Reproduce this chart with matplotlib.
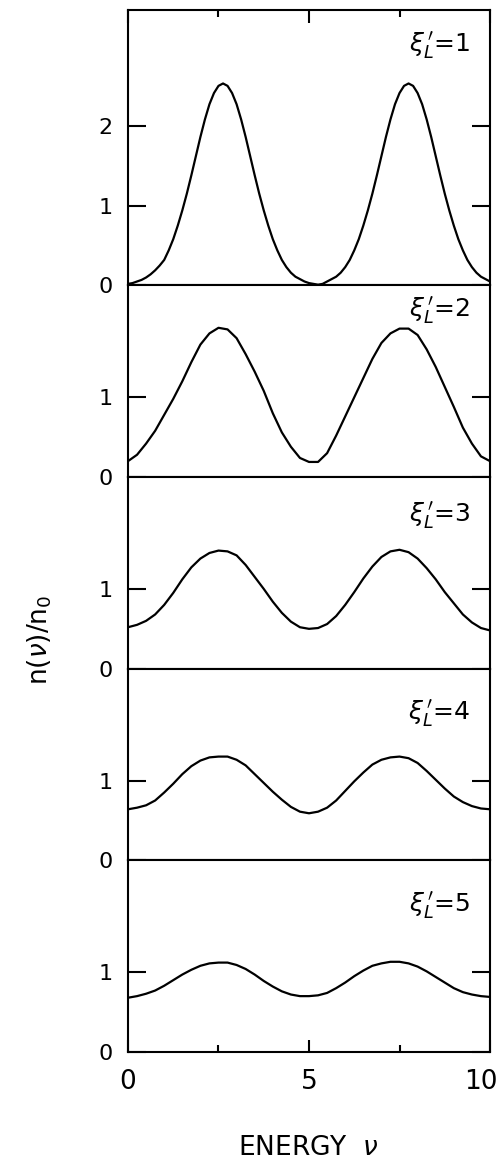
import matplotlib
matplotlib.use("Agg")
import matplotlib.pyplot as plt
from matplotlib.transforms import ScaledTranslation

# Energie-Raster: fein (0.125) fuer die spitze Kurve, sonst 0.25
energie_fein = [i * 0.125 for i in range(81)]
energie = [i * 0.25 for i in range(41)]

xi_werte = [1, 2, 3, 4, 5]

# n(nu)/n0 fuer xi_L' = 1 ... 5
n_xi1 = [0.02, 0.03, 0.05, 0.07, 0.10, 0.14, 0.19, 0.25, 0.32, 0.44,
         0.58, 0.75, 0.94, 1.15, 1.38, 1.62, 1.86, 2.08, 2.27, 2.41,
         2.50, 2.53, 2.50, 2.41, 2.27, 2.08, 1.86, 1.62, 1.38, 1.15,
         0.94, 0.75, 0.58, 0.44, 0.32, 0.23, 0.16, 0.11, 0.08, 0.05,
         0.03, 0.02, 0.01, 0.02, 0.05, 0.08, 0.11, 0.16, 0.23, 0.32,
         0.44, 0.58, 0.75, 0.94, 1.15, 1.38, 1.62, 1.86, 2.08, 2.27,
         2.41, 2.50, 2.53, 2.50, 2.41, 2.27, 2.08, 1.86, 1.62, 1.38,
         1.15, 0.94, 0.75, 0.58, 0.44, 0.32, 0.23, 0.16, 0.11, 0.08,
         0.05]
n_xi2 = [0.20, 0.28, 0.42, 0.58, 0.78, 0.98, 1.20, 1.44, 1.66, 1.80, 1.87,
         1.85, 1.74, 1.54, 1.32, 1.08, 0.80, 0.56, 0.38, 0.24, 0.19, 0.19,
         0.30, 0.52, 0.76, 1.00, 1.24, 1.48, 1.68, 1.80, 1.86, 1.86, 1.78,
         1.60, 1.38, 1.13, 0.88, 0.62, 0.42, 0.26, 0.20]
n_xi3 = [0.52, 0.55, 0.60, 0.68, 0.80, 0.95, 1.12, 1.27, 1.38, 1.45, 1.48,
         1.47, 1.42, 1.30, 1.15, 1.00, 0.84, 0.70, 0.59, 0.52, 0.50, 0.51,
         0.56, 0.66, 0.80, 0.96, 1.13, 1.28, 1.40, 1.47, 1.49, 1.46, 1.38,
         1.26, 1.12, 0.96, 0.82, 0.68, 0.58, 0.51, 0.48]
n_xi4 = [0.64, 0.66, 0.69, 0.75, 0.85, 0.96, 1.08, 1.18, 1.25, 1.29, 1.30,
         1.30, 1.26, 1.19, 1.08, 0.97, 0.86, 0.76, 0.67, 0.61, 0.59, 0.61,
         0.66, 0.75, 0.87, 0.99, 1.10, 1.20, 1.26, 1.29, 1.30, 1.28, 1.22,
         1.12, 1.01, 0.90, 0.80, 0.73, 0.68, 0.65, 0.64]
n_xi5 = [0.68, 0.70, 0.73, 0.77, 0.83, 0.90, 0.97, 1.03, 1.08, 1.11, 1.12,
         1.12, 1.09, 1.04, 0.97, 0.89, 0.82, 0.76, 0.72, 0.70, 0.70, 0.71,
         0.74, 0.80, 0.87, 0.95, 1.02, 1.08, 1.11, 1.13, 1.13, 1.11, 1.07,
         1.01, 0.94, 0.87, 0.80, 0.75, 0.72, 0.70, 0.69]
kurven = [(energie_fein, n_xi1), (energie, n_xi2), (energie, n_xi3),
          (energie, n_xi4), (energie, n_xi5)]

y_ticks = [[0, 1, 2], [0, 1], [0, 1], [0, 1], [0, 1]]
x_ticks = [0, 5, 10]
x_minor = [2.5, 7.5]

# --- Layout ---
y_max = [3.45, 2.4, 2.4, 2.4, 2.4]
label_abstand = [0.25, 0.12, 0.29, 0.37, 0.37]

fig = plt.figure(figsize=(4.99, 11.64), dpi=100)
gs = fig.add_gridspec(5, 1, height_ratios=y_max, hspace=0,
                      left=0.2565, right=0.982, top=0.9914, bottom=0.0962)

for i, (xi, (x, n)) in enumerate(zip(xi_werte, kurven)):
    ax = fig.add_subplot(gs[i])
    ax.plot(x, n, color="black", linewidth=1.6)
    ax.set_xlim(0, 10)
    ax.set_ylim(0, y_max[i])
    for s in ax.spines.values():
        s.set_linewidth(1.5)

    ax.set_yticks(y_ticks[i])
    ax.tick_params(axis="y", direction="in", length=13, width=1.5,
                   left=True, right=True, labelsize=16, pad=11)

    ax.set_xticks(x_ticks)
    ax.set_xticks(x_minor, minor=True)
    if i == 0:
        ax.tick_params(axis="x", which="both", direction="in", width=1.5,
                       bottom=False, top=True, labelbottom=False)
        ax.tick_params(axis="x", which="major", length=9)
        ax.tick_params(axis="x", which="minor", length=5)
    elif i == 4:
        ax.tick_params(axis="x", which="both", direction="in", width=1.5,
                       bottom=True, top=False, labelsize=19, pad=12)
        ax.tick_params(axis="x", which="major", length=9)
        ax.tick_params(axis="x", which="minor", length=5)
        # "10" etwas nach links, damit es nicht abgeschnitten wird
        lbl = ax.get_xticklabels()[-1]
        lbl.set_transform(lbl.get_transform()
                          + ScaledTranslation(-0.09, 0, fig.dpi_scale_trans))
    else:
        ax.tick_params(axis="x", which="both", bottom=False, top=False,
                       labelbottom=False)

    ax.text(9.45, y_max[i] - label_abstand[i],
            r"$\xi^{\,\prime}_{L}$=" + str(xi),
            ha="right", va="top", fontsize=18)

fig.text(40 / 499, 1 - 640 / 1164, r"n($\nu$)/n$_0$", rotation=90,
         ha="center", va="center", fontsize=19)
fig.text(308 / 499, 1 - 1148 / 1164, r"ENERGY  $\nu$",
         ha="center", va="center", fontsize=19)

fig.savefig("out.png", dpi=100)
